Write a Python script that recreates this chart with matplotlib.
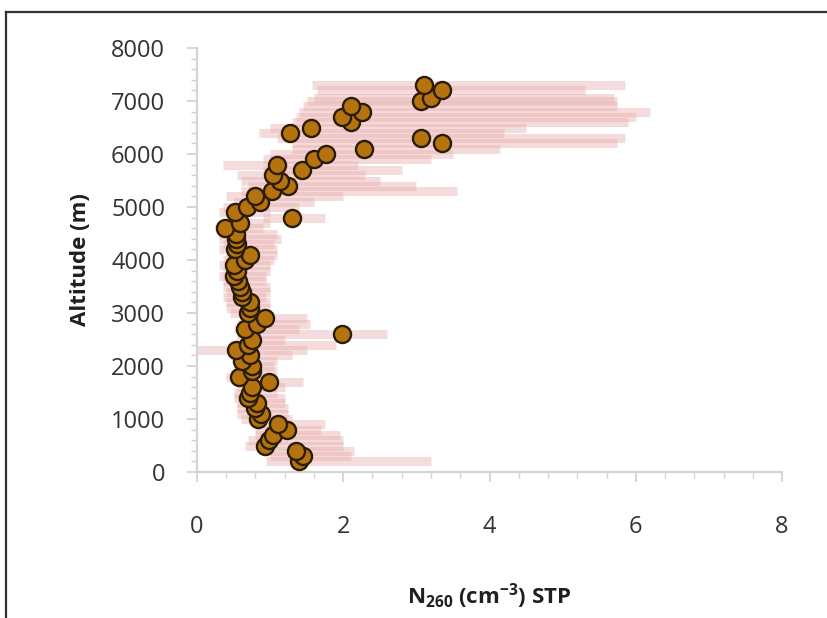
import matplotlib as mpl
import matplotlib.pyplot as plt
from matplotlib.lines import Line2D
from matplotlib.ticker import MultipleLocator

mpl.rcParams['font.family'] = ['Open Sans', 'DejaVu Sans']
mpl.rcParams['mathtext.default'] = 'regular'

# altitude (m), N260 (cm-3 STP), error bar left / right ends
alt = [200, 300, 400, 500, 600, 700, 800, 900, 1000, 1100, 1200, 1300, 1400, 1500,
       1600, 1700, 1800, 1900, 2000, 2100, 2200, 2300, 2400, 2500, 2600, 2700, 2800,
       2900, 3000, 3100, 3200, 3300, 3400, 3500, 3600, 3700, 3800, 3900, 4000, 4100,
       4200, 4300, 4400, 4500, 4600, 4700, 4800, 4900, 5000, 5100, 5200, 5300, 5400,
       5500, 5600, 5700, 5800, 5900, 6000, 6100, 6200, 6300, 6400, 6500, 6600, 6700,
       6800, 6900, 7000, 7050, 7200, 7300]
n260 = [1.39, 1.45, 1.36, 0.93, 0.98, 1.04, 1.23, 1.11, 0.84, 0.88, 0.80, 0.82, 0.70, 0.73,
        0.75, 0.99, 0.57, 0.75, 0.75, 0.61, 0.73, 0.54, 0.70, 0.75, 1.98, 0.66, 0.82,
        0.93, 0.70, 0.72, 0.72, 0.62, 0.61, 0.59, 0.56, 0.50, 0.55, 0.50, 0.66, 0.73,
        0.52, 0.55, 0.54, 0.54, 0.38, 0.59, 1.30, 0.52, 0.68, 0.86, 0.79, 1.02, 1.25,
        1.14, 1.04, 1.43, 1.09, 1.60, 1.77, 2.28, 3.35, 3.06, 1.27, 1.56, 2.10, 1.98,
        2.26, 2.10, 3.07, 3.20, 3.35, 3.10]
n_lo = [0.95, 1.00, 0.95, 0.65, 0.70, 0.80, 0.80, 0.90, 0.60, 0.55, 0.55, 0.55, 0.50, 0.50,
        0.55, 0.85, 0.40, 0.50, 0.50, 0.50, 0.45, 0.00, 0.60, 0.55, 0.70, 0.50, 0.55,
        0.60, 0.45, 0.40, 0.40, 0.35, 0.40, 0.35, 0.35, 0.30, 0.35, 0.30, 0.35, 0.40,
        0.30, 0.35, 0.30, 0.30, 0.25, 0.35, 0.90, 0.30, 0.35, 0.50, 0.40, 0.60, 0.70,
        0.60, 0.55, 0.90, 0.35, 0.90, 1.00, 1.30, 1.30, 1.10, 0.85, 1.00, 1.30, 1.35,
        1.40, 1.45, 1.50, 1.60, 1.64, 1.57]
n_hi = [3.20, 2.10, 2.15, 2.00, 2.00, 1.95, 1.70, 1.75, 1.30, 1.25, 1.25, 1.20, 1.20, 1.10,
        1.20, 1.45, 1.00, 1.10, 1.05, 1.10, 1.30, 1.50, 1.90, 1.20, 2.60, 1.40, 1.55,
        1.50, 1.00, 1.00, 1.00, 0.95, 1.00, 1.00, 0.95, 0.95, 1.00, 1.00, 1.05, 1.10,
        1.10, 1.05, 1.15, 1.10, 0.90, 1.00, 1.75, 1.00, 1.40, 1.60, 2.00, 3.55, 3.00,
        2.50, 2.30, 2.80, 2.20, 3.20, 3.50, 4.15, 5.75, 5.85, 4.20, 4.50, 5.90, 6.00,
        6.20, 5.75, 5.75, 5.70, 5.30, 5.85]

fig = plt.figure(figsize=(8.27, 6.18), dpi=100)
ax = fig.add_axes([0.2382, 0.2362, 0.7074, 0.6861])

ax.hlines(alt, n_lo, n_hi, color='#e6a8a8', alpha=0.4, linewidth=6.5, zorder=2)
ax.plot(n260, alt, 'o', ms=12.3, mfc='#b5730f', mec='#2b1c08', mew=1.7, zorder=3)

ax.set_xlim(0, 8)
ax.set_ylim(0, 8000)
ax.xaxis.set_major_locator(MultipleLocator(2))
ax.xaxis.set_minor_locator(MultipleLocator(0.4))
ax.yaxis.set_major_locator(MultipleLocator(1000))
ax.yaxis.set_minor_locator(MultipleLocator(200))

for s in ['top', 'right']:
    ax.spines[s].set_visible(False)
for s in ['left', 'bottom']:
    ax.spines[s].set_color('#d4d4d4')
    ax.spines[s].set_linewidth(1.6)

ax.tick_params(which='major', length=7, width=1.2, color='#d0d0d0', labelcolor='#333333',
               labelsize=17)
ax.tick_params(which='minor', length=4, width=1.0, color='#d0d0d0')
ax.tick_params(axis='x', which='major', pad=24)
ax.tick_params(axis='y', which='major', pad=16)

ax.set_ylabel('Altitude (m)', fontsize=16, fontweight='bold', color='#202020', labelpad=14)
ax.set_xlabel('N$_{260}$ (cm$^{-3}$) STP', fontsize=16, fontweight='bold', color='#202020',
              labelpad=30)

# frame around the figure (only top and left edges visible)
fig.add_artist(Line2D([6 / 827, 1], [1 - 12 / 618, 1 - 12 / 618], color='#333333', lw=1.6))
fig.add_artist(Line2D([6 / 827, 6 / 827], [0, 1 - 12 / 618], color='#333333', lw=1.6))

fig.savefig('out.png', dpi=100)
